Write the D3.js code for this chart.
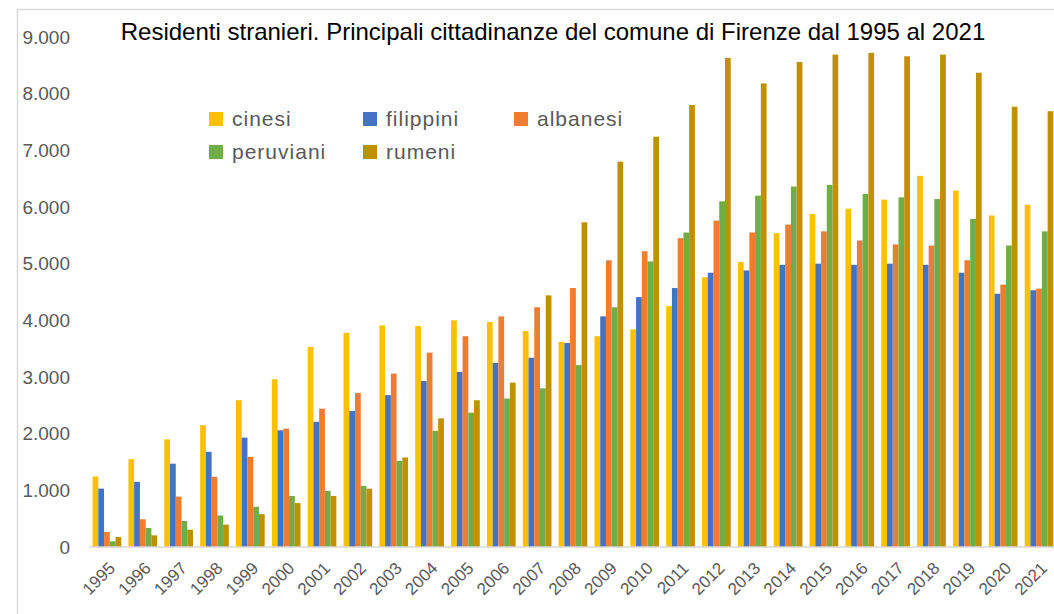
<!DOCTYPE html>
<html>
<head>
<meta charset="utf-8">
<script src="https://cdn.jsdelivr.net/npm/d3@7"></script>
<style>
  body { margin: 0; background: #fff; }
  svg { display: block; }
</style>
</head>
<body>
<div id="chart"></div>
<script>
// Residenti stranieri a Firenze, principali cittadinanze 1995-2021
const years = ['1995','1996','1997','1998','1999','2000','2001','2002','2003','2004','2005','2006','2007','2008',
               '2009','2010','2011','2012','2013','2014','2015','2016','2017','2018','2019','2020','2021'];

const cinesi    = [1245,1550,1900,2150,2590,2960,3530,3780,3910,3900,4000,3970,3810,3620,3720,3840,4250,4760,5030,5540,5880,5970,6130,6550,6290,5850,6040];
const filippini = [1030,1150,1470,1680,1930,2060,2210,2400,2680,2930,3090,3250,3340,3600,4070,4410,4570,4840,4880,4980,5000,4980,5000,4980,4840,4470,4530];
const albanesi  = [265,490,890,1240,1590,2090,2440,2720,3060,3430,3720,4070,4230,4570,5060,5220,5450,5760,5550,5690,5570,5410,5340,5320,5060,4630,4560];
const peruviani = [100,335,460,555,710,900,990,1080,1520,2050,2370,2620,2800,3210,4230,5040,5550,6100,6200,6360,6390,6230,6170,6140,5790,5320,5570];
const rumeni    = [175,205,305,395,580,775,900,1030,1580,2270,2590,2900,4440,5730,6800,7240,7800,8630,8180,8560,8690,8720,8660,8690,8370,7770,7690];

const seriesNames  = ['cinesi', 'filippini', 'albanesi', 'peruviani', 'rumeni'];
const seriesValues = [cinesi, filippini, albanesi, peruviani, rumeni];
const seriesColors = ['#FFC000', '#4472C4', '#ED7D31', '#70AD47', '#BF9000'];
const yTicks = [0, 1000, 2000, 3000, 4000, 5000, 6000, 7000, 8000, 9000];

const width = 1054;
const height = 614;

const svg = d3.select('#chart')
    .append('svg')
    .attr('width', width)
    .attr('height', height);

// chart area border (cropped on the right)
svg.append('rect')
    .attr('x', 17.5)
    .attr('y', 9.5)
    .attr('width', 1200)
    .attr('height', 800)
    .attr('fill', '#fff')
    .attr('stroke', '#d9d9d9')
    .attr('stroke-width', 1.5);

const plotLeft = 89;
const step = 35.85;

const x = d3.scaleBand()
    .domain(years)
    .range([plotLeft, plotLeft + step * years.length])
    .paddingInner(0.2)
    .paddingOuter(0.1);

const x1 = d3.scaleBand()
    .domain(seriesNames)
    .range([0, x.bandwidth()]);

const y = d3.scaleLinear()
    .domain([0, 9000])
    .range([547, 37]);

// bars
const groups = svg.append('g')
    .selectAll('g')
    .data(years)
    .join('g')
    .attr('transform', d => `translate(${x(d)},0)`);

groups.selectAll('rect')
    .data((d, i) => seriesNames.map((s, k) => ({ s, k, v: seriesValues[k][i] })))
    .join('rect')
    .attr('x', d => x1(d.s))
    .attr('width', x1.bandwidth())
    .attr('y', d => y(d.v))
    .attr('height', d => y(0) - y(d.v))
    .attr('fill', d => seriesColors[d.k]);

// baseline
svg.append('line')
    .attr('x1', plotLeft)
    .attr('x2', width)
    .attr('y1', y(0))
    .attr('y2', y(0))
    .attr('stroke', '#d9d9d9')
    .attr('stroke-width', 1.5);

// y axis labels
const yAxis = svg.append('g')
    .attr('transform', 'translate(70,0)')
    .call(d3.axisLeft(y)
        .tickValues(yTicks)
        .tickSize(0)
        .tickPadding(0)
        .tickFormat(d => d3.format(',')(d).replace(/,/g, '.')));
yAxis.select('.domain').remove();
yAxis.selectAll('text')
    .attr('fill', '#595959')
    .style('font-family', '"Liberation Sans", Arial, sans-serif')
    .style('font-size', '19px');

// x axis labels, rotated
svg.append('g')
    .selectAll('text')
    .data(years)
    .join('text')
    .attr('transform', d => `translate(${x(d) + x.bandwidth() / 2 + 5},${y(0) + 18}) rotate(-45)`)
    .attr('text-anchor', 'end')
    .attr('dy', '0.35em')
    .attr('fill', '#595959')
    .style('font-family', '"Liberation Sans", Arial, sans-serif')
    .style('font-size', '17px')
    .text(d => d);

// title
svg.append('text')
    .attr('x', 553)
    .attr('y', 40)
    .attr('text-anchor', 'middle')
    .attr('fill', '#000')
    .style('font-family', '"Liberation Sans", Arial, sans-serif')
    .style('font-size', '24px')
    .text('Residenti stranieri. Principali cittadinanze del comune di Firenze dal 1995 al 2021');

// legend, two rows
const legendX = [209, 363, 514];
const legendY = [119, 152];
const legend = svg.append('g')
    .selectAll('g')
    .data(seriesNames)
    .join('g')
    .attr('transform', (d, i) => `translate(${legendX[i % 3]},${legendY[Math.floor(i / 3)]})`);

legend.append('rect')
    .attr('x', 0)
    .attr('y', -7)
    .attr('width', 14)
    .attr('height', 14)
    .attr('fill', (d, i) => seriesColors[i]);

legend.append('text')
    .attr('x', 23)
    .attr('dy', '0.35em')
    .attr('fill', '#595959')
    .style('font-family', '"Liberation Sans", Arial, sans-serif')
    .style('font-size', '21px')
    .style('letter-spacing', '1px')
    .text(d => d);
</script>
</body>
</html>
